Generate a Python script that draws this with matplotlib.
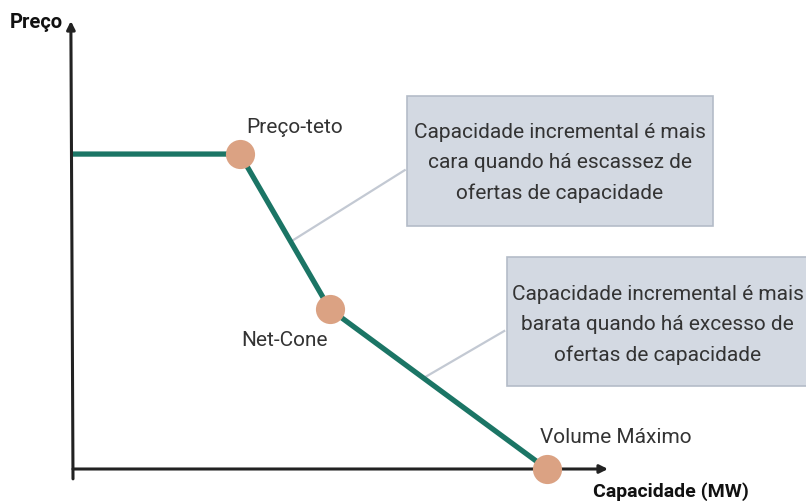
import matplotlib
matplotlib.use("Agg")
import matplotlib.pyplot as plt
from matplotlib.patches import Rectangle
from matplotlib import font_manager

names = {f.name for f in font_manager.fontManager.ttflist}
FAM = ["Liberation Sans Narrow", "Roboto", "DejaVu Sans"] if "Liberation Sans Narrow" in names else ["Roboto", "DejaVu Sans"]
plt.rcParams['font.family'] = FAM

# Data (arbitrary units)
capacity = [0, 31.2, 48.0, 88.6]
price = [70.3, 70.3, 35.7, 0]
point_labels = ["Preço-teto", "Net-Cone", "Volume Máximo"]
box_texts = ["Capacidade incremental é mais\ncara quando há escassez de\nofertas de capacidade",
             "Capacidade incremental é mais\nbarata quando há excesso de\nofertas de capacidade"]

W, H = 806, 502
fig = plt.figure(figsize=(W/100, H/100), dpi=100)
# axes from origin pixel (73,470) to arrow tips (608, 22)
ax = fig.add_axes([73/W, (H-470)/H, (608-73)/W, (470-22)/H])
ax.set_xlim(0, 100)
ax.set_ylim(0, 100)
ax.axis('off')

teal = "#1b7565"
peach = "#dba283"
txt = "#333333"

# axes with arrows
ax.annotate("", xy=(1, 0), xytext=(0, 0), xycoords='axes fraction',
            arrowprops=dict(arrowstyle="-|>", color="#222222", lw=2.2, mutation_scale=12, shrinkA=0, shrinkB=0))
ax.annotate("", xy=(-0.004, 1), xytext=(0.0, -0.022), xycoords='axes fraction',
            arrowprops=dict(arrowstyle="-|>", color="#222222", lw=2.2, mutation_scale=12, shrinkA=0, shrinkB=0))

# curve
ax.plot(capacity, price, color=teal, lw=3.8, solid_capstyle='butt', zorder=3, clip_on=False)
ax.plot(capacity[1:], price[1:], 'o', ms=21, color=peach, mec='none', zorder=4, clip_on=False)

# point labels
ax.text(41.5, 76.5, point_labels[0], ha='center', va='center', fontsize=15, color=txt)
ax.text(39.5, 29.0, point_labels[1], ha='center', va='center', fontsize=15, color=txt)
ax.text(101.5, 7.2, point_labels[2], ha='center', va='center', fontsize=15, color=txt, clip_on=False)

# connectors
ax.plot([40.9, 62.0], [50.9, 66.7], color="#c3c9d3", lw=1.6, zorder=2, clip_on=False)
ax.plot([65.8, 80.6], [20.5, 30.8], color="#c3c9d3", lw=1.6, zorder=2, clip_on=False)

# boxes
boxes = [(62.4, 54.2, 57.2, 29.1), (81.1, 18.5, 57.0, 28.8)]
centers = [(91.0, 68.5), (109.3, 32.4)]
for (bx, by, bw, bh), (cx, cy), t in zip(boxes, centers, box_texts):
    ax.add_patch(Rectangle((bx, by), bw, bh, facecolor="#d3d9e2", edgecolor="#b4bcc8",
                           lw=1.2, zorder=2, clip_on=False))
    ax.text(cx, cy, t, ha='center', va='center', fontsize=15, color=txt,
            linespacing=1.75, zorder=3, clip_on=False)

# axis labels
fig.text(10/W, 1-22/H, "Preço", ha='left', va='center', fontsize=14.5, fontweight='bold', color="#111111")
fig.text(593/W, 1-492/H, "Capacidade (MW)", ha='left', va='center', fontsize=14, fontweight='bold', color="#111111")

fig.savefig("out.png", dpi=100)
